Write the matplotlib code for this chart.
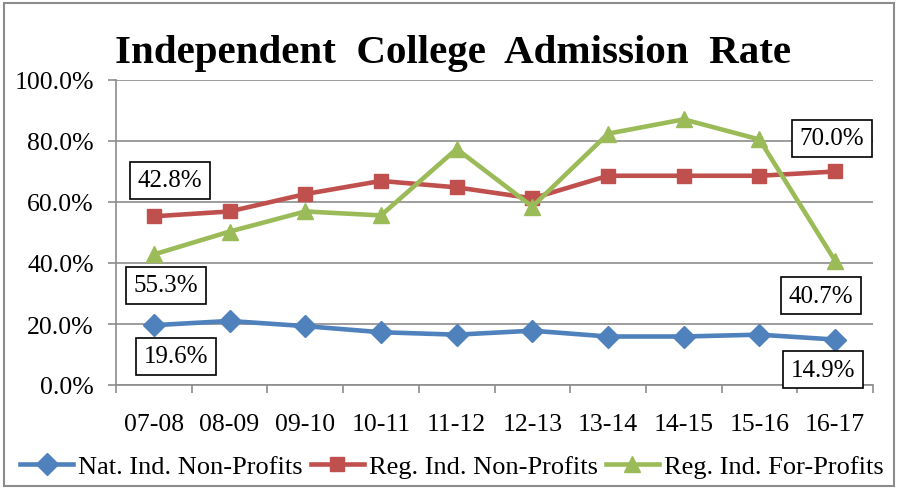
import numpy as np
import matplotlib
matplotlib.use('Agg')
import matplotlib.pyplot as plt
from matplotlib.patches import Rectangle

plt.rcParams['font.family'] = ['Liberation Serif', 'DejaVu Serif']

years = ['07-08', '08-09', '09-10', '10-11', '11-12', '12-13', '13-14', '14-15', '15-16', '16-17']
nat_np = [19.6, 21.0, 19.3, 17.3, 16.5, 17.8, 15.9, 15.9, 16.5, 14.9]
reg_np = [55.3, 56.9, 62.6, 66.9, 64.8, 61.2, 68.6, 68.6, 68.6, 70.0]
reg_fp = [42.8, 50.3, 56.9, 55.6, 77.4, 58.5, 82.4, 87.1, 80.5, 40.7]

blue = '#4F81BD'
red = '#C0504D'
green = '#9BBB59'

fig = plt.figure(figsize=(8.98, 4.89), dpi=100)
ax = fig.add_axes([116/898, 1-386/489, (873-116)/898, (386-81)/489])

x = np.arange(len(years))
ax.plot(x, nat_np, color=blue, lw=3.3, marker='D', ms=11, label='Nat. Ind. Non-Profits', zorder=3)
ax.plot(x, reg_np, color=red, lw=3.3, marker='s', ms=10, label='Reg. Ind. Non-Profits', zorder=3)
ax.plot(x, reg_fp, color=green, lw=3.3, marker='^', ms=11.5, label='Reg. Ind. For-Profits', zorder=4)

ax.set_xlim(-0.5, len(years)-0.5)
ax.set_ylim(0, 100)
ax.set_yticks(np.arange(0, 101, 20))
ax.set_yticklabels(['%.1f%%' % v for v in np.arange(0, 101, 20)], fontsize=18.5)
ax.yaxis.grid(True, color='#8c8c8c', lw=1.2)
ax.set_axisbelow(True)

ax.set_xticks(np.arange(-0.5, len(years), 1))
ax.set_xticklabels([])
ax.set_xticks(x, minor=True)
ax.set_xticklabels(years, minor=True, fontsize=18.5)
ax.tick_params(axis='x', which='major', length=6, color='#8c8c8c', width=1.2)
ax.tick_params(axis='x', which='minor', length=0, pad=20)
ax.tick_params(axis='y', length=6, color='#8c8c8c', width=1.2, pad=10)

for s in ['top', 'right']:
    ax.spines[s].set_visible(False)
for s in ['left', 'bottom']:
    ax.spines[s].set_color('#8c8c8c')
    ax.spines[s].set_linewidth(1.2)

box = dict(boxstyle='square,pad=0.3', fc='white', ec='black', lw=1.2)
labels = [
    (0, reg_np[0], '42.8%', (16, 36)),
    (0, reg_fp[0], '55.3%', (12, -31)),
    (0, nat_np[0], '19.6%', (22, -31)),
    (9, reg_np[9], '70.0%', (-3, 33)),
    (9, reg_fp[9], '40.7%', (-14, -35)),
    (9, nat_np[9], '14.9%', (-12, -30)),
]
for xi, yi, txt, off in labels:
    ax.annotate(txt, xy=(xi, yi), xytext=off, textcoords='offset pixels',
                ha='center', va='center', fontsize=18, bbox=box, zorder=5)

fig.text(0.5*(116+790)/898, 1-53/489, 'Independent  College  Admission  Rate',
         ha='center', va='center', fontsize=29.5, fontweight='bold')

fig.legend(loc='center', bbox_to_anchor=(452/898, 1-467/489), ncol=3, frameon=False,
           fontsize=19, handlelength=2.0, handletextpad=0.2, columnspacing=0.3)

fig.patches.append(Rectangle((4/898, 2/489), 890/898, 483/489, transform=fig.transFigure,
                             fill=False, ec='#8c8c8c', lw=1.5))

fig.savefig('out.png', dpi=100)
